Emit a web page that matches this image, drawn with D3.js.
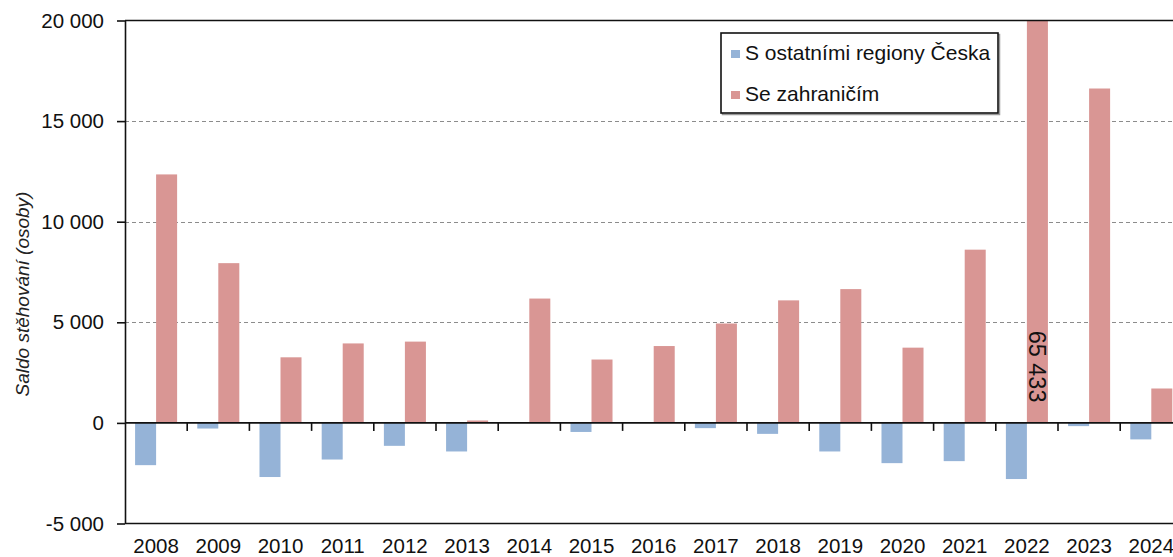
<!DOCTYPE html>
<html>
<head>
<meta charset="utf-8">
<script src="https://cdn.jsdelivr.net/npm/d3@7"></script>
<style>
  body { margin: 0; background: #fff; }
  svg { display: block; font-family: "Liberation Sans", Arial, sans-serif; }
  .grid line { stroke: #8c8c8c; stroke-dasharray: 4,3; }
</style>
</head>
<body>
<div id="chart"></div>
<script>
// data
let years = ["2008","2009","2010","2011","2012","2013","2014","2015","2016","2017","2018","2019","2020","2021","2022","2023","2024"],
    regions = [-2100,-280,-2690,-1820,-1140,-1420,0,-450,0,-260,-545,-1420,-2000,-1900,-2790,-160,-820],
    abroad = [12350,7940,3260,3950,4040,120,6180,3150,3820,4940,6090,6650,3740,8610,65433,16620,1710],
    seriesNames = ["S ostatními regiony Česka", "Se zahraničím"],
    seriesColors = ["#95b3d7", "#d99694"],
    yTicks = [-5000, 0, 5000, 10000, 15000, 20000],
    labelYear = "2022",
    yTitle = "Saldo stěhování (osoby)";

let W = 1173, H = 557,
    margin = { top: 20, left: 125, bottom: 33 },
    plotRight = 125 + 17 * 62.2,
    svg = d3.select("#chart").append("svg").attr("width", W).attr("height", H);

let loc = d3.formatLocale({ decimal: ",", thousands: "\u00a0", grouping: [3], currency: ["", ""], minus: "-" }),
    fmt = loc.format(",d");

let x = d3.scaleBand().domain(years).range([margin.left, plotRight]).padding(0),
    x1 = d3.scaleBand().domain([0, 1]).range([0, x.bandwidth()]).paddingInner(0).paddingOuter(0.48),
    y = d3.scaleLinear().domain([-5000, 20000]).range([H - margin.bottom - 0.5, margin.top + 0.5]);

let rows = years.map((yr, i) => ({ year: yr, vals: [regions[i], abroad[i]] }));

svg.append("clipPath").attr("id", "plot-clip")
    .append("rect")
    .attr("x", margin.left).attr("y", y(20000))
    .attr("width", plotRight - margin.left).attr("height", y(-5000) - y(20000));

// dashed gridlines
svg.append("g").attr("class", "grid")
    .selectAll("line").data([5000, 10000, 15000]).join("line")
    .attr("x1", margin.left).attr("x2", plotRight)
    .attr("y1", d => Math.round(y(d)) + 0.5).attr("y2", d => Math.round(y(d)) + 0.5);

// bars
let bars = svg.append("g").attr("clip-path", "url(#plot-clip)");
bars.selectAll("g").data(rows).join("g")
    .attr("transform", d => `translate(${x(d.year)},0)`)
    .selectAll("rect").data(d => d.vals.map((v, k) => ({ k: k, v: v }))).join("rect")
    .attr("x", d => x1(d.k))
    .attr("width", x1.bandwidth())
    .attr("y", d => y(Math.max(0, d.v)))
    .attr("height", d => Math.abs(y(d.v) - y(0)))
    .attr("fill", d => seriesColors[d.k]);

// value label for the clipped bar
let lx = x(labelYear) + x1(1) + x1.bandwidth() / 2;
svg.append("text")
    .attr("transform", `translate(${lx},${y(2800)}) rotate(90)`)
    .attr("text-anchor", "middle")
    .attr("dy", "0.36em")
    .attr("font-size", "23.5px")
    .attr("fill", "#111")
    .text(fmt(abroad[years.indexOf(labelYear)]));

// frame lines: top, bottom, zero
svg.append("g").selectAll("line").data([20000, -5000, 0]).join("line")
    .attr("x1", margin.left).attr("x2", plotRight)
    .attr("y1", d => y(d)).attr("y2", d => y(d))
    .attr("stroke", "#111").attr("stroke-width", 1.6);

// category boundary ticks on the zero line
svg.append("g").selectAll("line").data(years).join("line")
    .attr("x1", d => x(d) + x.step()).attr("x2", d => x(d) + x.step())
    .attr("y1", y(0)).attr("y2", y(0) + 8)
    .attr("stroke", "#111").attr("stroke-width", 1.6);

// y axis
svg.append("g")
    .attr("transform", `translate(${margin.left},0)`)
    .call(d3.axisLeft(y).tickValues(yTicks).tickFormat(fmt).tickSize(8).tickSizeOuter(0).tickPadding(13))
    .call(g => g.selectAll("path,line").attr("stroke", "#111").attr("stroke-width", 1.6))
    .call(g => g.selectAll("text").attr("font-size", "20.5px").attr("fill", "#111").attr("font-family", null));

// x labels below the plot
svg.append("g")
    .attr("transform", `translate(0,${y(-5000)})`)
    .call(d3.axisBottom(x).tickSize(0).tickPadding(15))
    .call(g => g.select(".domain").remove())
    .call(g => g.selectAll("text").attr("font-size", "20.5px").attr("fill", "#111").attr("font-family", null));

// y title
svg.append("text")
    .attr("transform", `translate(29,294) rotate(-90)`)
    .attr("text-anchor", "middle")
    .attr("font-size", "19px")
    .attr("font-style", "italic")
    .attr("fill", "#222")
    .text(yTitle);

// legend
let lg = svg.append("g").attr("transform", "translate(721,33)");
lg.append("rect").attr("x", 1.5).attr("y", 1.5).attr("width", 277).attr("height", 80)
    .attr("fill", "none").attr("stroke", "#999").attr("stroke-width", 1.5);
lg.append("rect").attr("width", 277).attr("height", 80)
    .attr("fill", "#fff").attr("stroke", "#111").attr("stroke-width", 1.6);
let li = lg.selectAll("g.item").data(seriesNames).join("g")
    .attr("class", "item")
    .attr("transform", (d, i) => `translate(10,${20 + i * 41})`);
li.append("rect").attr("y", -3).attr("width", 9).attr("height", 8)
    .attr("fill", (d, i) => seriesColors[i]);
li.append("text").attr("x", 14).attr("y", 6.5)
    .attr("font-size", "21px").attr("fill", "#111")
    .text(d => d);
</script>
</body>
</html>
